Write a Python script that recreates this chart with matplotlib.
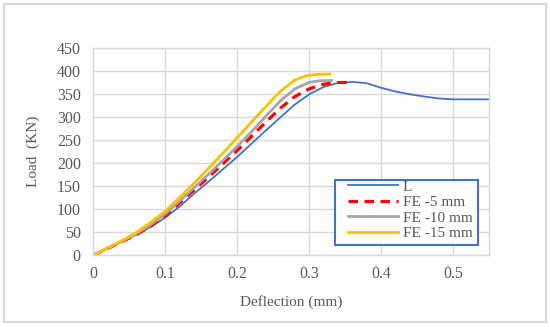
import numpy as np
import matplotlib.pyplot as plt
from matplotlib.patches import Rectangle

# values
l_x = [0, 0.02, 0.04, 0.06, 0.08, 0.1, 0.12, 0.14, 0.16, 0.18, 0.2, 0.22, 0.24,
       0.26, 0.28, 0.3, 0.32, 0.34, 0.36, 0.38, 0.4, 0.42, 0.44, 0.46, 0.48, 0.5, 0.55]
l_y = [0, 15, 30, 45, 62, 82, 106, 134, 160, 187, 214, 243, 272,
       300, 328, 350, 366, 375, 377, 374, 364, 356, 350, 345, 341, 339, 339]

fe5_x = [0, 0.02, 0.04, 0.06, 0.08, 0.1, 0.12, 0.14, 0.16, 0.18, 0.2, 0.22, 0.24,
         0.26, 0.28, 0.3, 0.32, 0.34, 0.36]
fe5_y = [0, 15, 30, 45, 64, 86, 114, 142, 170, 199, 228, 259, 290,
         320, 345, 362, 372, 375.5, 376]

fe10_x = [0, 0.02, 0.04, 0.06, 0.08, 0.1, 0.12, 0.14, 0.16, 0.18, 0.2, 0.22, 0.24,
          0.26, 0.28, 0.3, 0.315, 0.331]
fe10_y = [0, 16, 31, 47, 67, 90, 118, 147, 176, 206, 237, 269, 303,
          336, 362, 376, 379.5, 380]

fe15_x = [0, 0.02, 0.04, 0.06, 0.08, 0.1, 0.12, 0.14, 0.16, 0.18, 0.2, 0.22, 0.24,
          0.26, 0.28, 0.295, 0.31, 0.329]
fe15_y = [0, 16, 32, 50, 72, 96, 126, 157, 189, 222, 256, 290, 324,
          357, 381, 390, 393.5, 394]

plt.rcParams['font.family'] = ['Liberation Serif', 'DejaVu Serif']

W, H = 550, 327
fig = plt.figure(figsize=(W / 100, H / 100), dpi=100)

def fig_box(x0, y0, x1, y1):
    # pixel box (top-left origin) -> figure fraction rect
    return [x0 / W, 1 - y1 / H, (x1 - x0) / W, (y1 - y0) / H]

# light outer frame of the chart area
r = fig_box(4, 4, 546, 322)
fig.patches.append(Rectangle((r[0], r[1]), r[2], r[3], transform=fig.transFigure,
                             fill=False, edgecolor='#d9d9d9', linewidth=1.5))

ax = fig.add_axes(fig_box(93.3, 48.3, 489.3, 255.3))

ax.plot(l_x, l_y, color='#4472C4', linewidth=1.3, label='L')
ax.plot(fe5_x, fe5_y, color='#FF0000', linewidth=2.3, dashes=(3, 2), label='FE -5 mm')
ax.plot(fe10_x, fe10_y, color='#A5A5A5', linewidth=2.0, label='FE -10 mm')
ax.plot(fe15_x, fe15_y, color='#FFC000', linewidth=2.0, label='FE -15 mm')

ax.set_xlim(0, 0.55)
ax.set_ylim(0, 450)
ax.set_xticks([0, 0.1, 0.2, 0.3, 0.4, 0.5])
ax.set_xticklabels(['0', '0.1', '0.2', '0.3', '0.4', '0.5'])
ax.set_yticks(np.arange(0, 451, 50))
ax.grid(True, color='#d9d9d9', linewidth=1.0)
ax.set_axisbelow(True)
for s in ax.spines.values():
    s.set_color('#d9d9d9')
    s.set_linewidth(1.0)
ax.tick_params(length=0, labelsize=11.5, colors='#595959')
ax.tick_params(axis='y', pad=9)
ax.tick_params(axis='x', pad=8)

ax.set_xlabel('Deflection (mm)', fontsize=11, color='#595959', labelpad=9)
ax.set_ylabel('Load  (KN)', fontsize=11, color='#595959', labelpad=12)

# legend box drawn separately so padding matches the reference
lb = fig_box(335, 180, 478, 245)
fig.patches.append(Rectangle((lb[0], lb[1]), lb[2], lb[3], transform=fig.transFigure,
                             fill=True, facecolor='white', edgecolor='#4472C4',
                             linewidth=1.5, zorder=5))
leg = fig.legend(loc='upper left', bbox_to_anchor=(348 / W, 1 - 180 / H), fontsize=11,
                 frameon=False, handlelength=3.3, handletextpad=0.3,
                 borderpad=0.0, borderaxespad=0, labelspacing=0.12)
leg.set_zorder(6)
for t in leg.get_texts():
    t.set_color('#595959')

fig.savefig('out.png', dpi=100)
